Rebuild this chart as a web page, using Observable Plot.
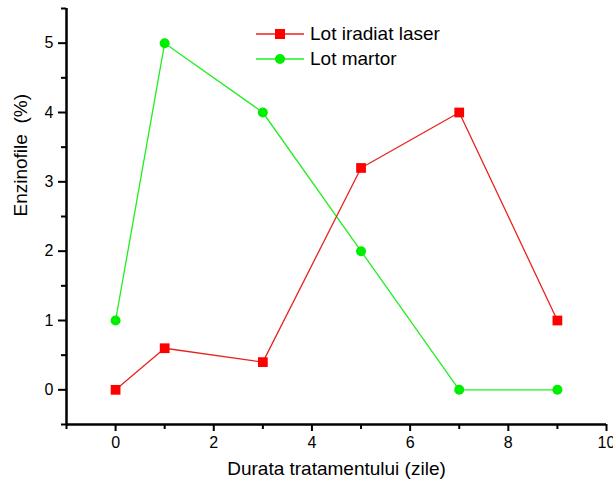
<!DOCTYPE html>
<html><head><meta charset="utf-8">
<script src="https://cdn.jsdelivr.net/npm/d3@7"></script>
<script src="https://cdn.jsdelivr.net/npm/@observablehq/plot@0.6"></script>
<style>
body{margin:0;background:#fff;font-family:"Liberation Sans",Arial,sans-serif;}
#wrap{position:relative;width:613px;height:486px;}
#legend{position:absolute;left:256px;top:21px;font-size:19px;line-height:25px;color:#000;}
#legend div{display:flex;align-items:center;height:25px;}
#legend svg{margin-right:6px;}
</style></head>
<body><div id="wrap"><div id="legend"></div></div>
<script>
const days = [0, 1, 3, 5, 7, 9];
const laser = [0, 0.6, 0.4, 3.2, 4, 1];
const martor = [1, 5, 4, 2, 0, 0];
const seriesNames = ["Lot iradiat laser", "Lot martor"];
const xMajor = [0, 2, 4, 6, 8, 10];
const xMinor = [-1, 1, 3, 5, 7, 9];
const yMajor = [0, 1, 2, 3, 4, 5];
const yMinor = [-0.5, 0.5, 1.5, 2.5, 3.5, 4.5, 5.5];

const red = "#ff0000", green = "#00ee00", greenLine = "#22ee22";
const laserData = days.map((d, i) => ({x: d, y: laser[i]}));
const martorData = days.map((d, i) => ({x: d, y: martor[i]}));

const chart = Plot.plot({
  width: 613, height: 486,
  marginLeft: 66, marginRight: 7, marginTop: 8, marginBottom: 62,
  style: {fontFamily: '"Liberation Sans", Arial, sans-serif', fontSize: "16px", background: "white"},
  x: {domain: [-1, 10]},
  y: {domain: [-0.5, 5.5]},
  marks: [
    Plot.axisX({ticks: xMajor, tickSize: 7, tickPadding: 5, tickFormat: "d", fontSize: 16, label: null, strokeWidth: 2}),
    Plot.axisX({ticks: xMinor, tickSize: 5, text: null, label: null, strokeWidth: 2}),
    Plot.axisY({ticks: yMajor, tickSize: 8, tickPadding: 5, tickFormat: "d", fontSize: 16, label: null, strokeWidth: 2}),
    Plot.axisY({ticks: yMinor, tickSize: 5, text: null, label: null, strokeWidth: 2}),
    Plot.ruleX([-1], {stroke: "black", strokeWidth: 2.5}),
    Plot.ruleY([-0.5], {stroke: "black", strokeWidth: 2.5}),
    Plot.line(martorData, {x: "x", y: "y", stroke: greenLine, strokeWidth: 1.3}),
    Plot.line(laserData, {x: "x", y: "y", stroke: "#e8231e", strokeWidth: 1.3}),
    Plot.dot(martorData, {x: "x", y: "y", r: 5, fill: green, stroke: "none"}),
    Plot.dot(laserData, {x: "x", y: "y", r: 5.5, symbol: "square", fill: red, stroke: "none"}),
    Plot.text(["Durata tratamentului (zile)"], {frameAnchor: "bottom", dy: 50, fontSize: 19, text: d => d}),
    Plot.text(["Enzinofile  (%)"], {frameAnchor: "left", dx: -46, rotate: -90, fontSize: 19, text: d => d})
  ]
});
document.getElementById("wrap").prepend(chart);

const legend = document.getElementById("legend");
[[seriesNames[0], "#e8231e", red, "square"], [seriesNames[1], greenLine, green, "circle"]].forEach(([name, lc, mc, shape]) => {
  const row = document.createElement("div");
  const marker = shape === "square"
    ? `<rect x="19" y="7" width="10" height="10" fill="${mc}"/>`
    : `<circle cx="24" cy="12" r="5" fill="${mc}"/>`;
  row.innerHTML = `<svg width="48" height="24"><line x1="0" x2="48" y1="12" y2="12" stroke="${lc}" stroke-width="1.3"/>${marker}</svg><span>${name}</span>`;
  legend.appendChild(row);
});
</script></body></html>
